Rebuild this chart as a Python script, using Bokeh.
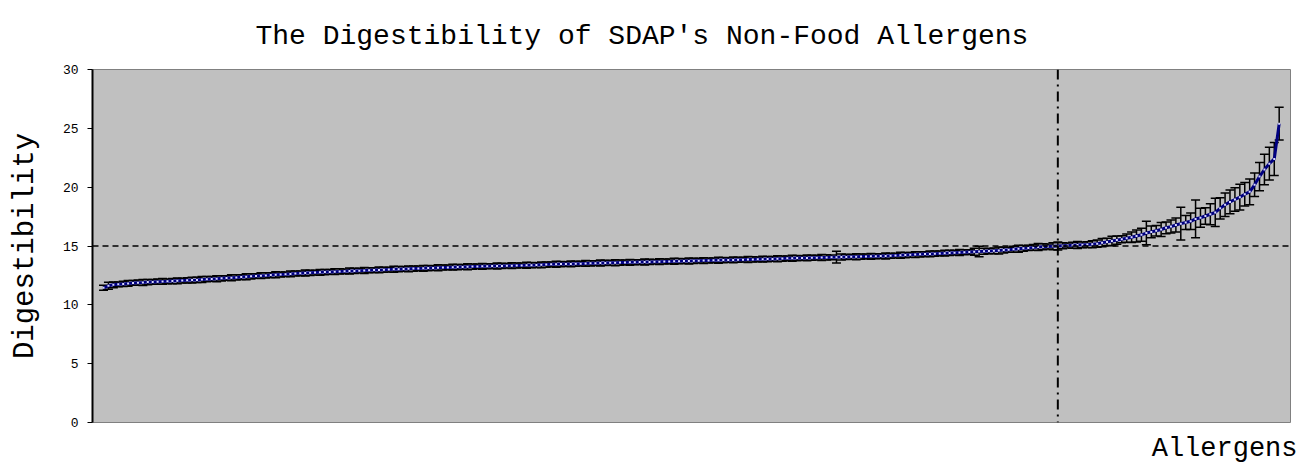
from bokeh.plotting import figure
from bokeh.models import ColumnDataSource, Span, Title, FixedTicker, Range1d
from bokeh.embed import file_html
from bokeh.resources import INLINE

# ---- data ----
digestibility = [
    11.45, 11.62, 11.70, 11.74, 11.78, 11.82, 11.86, 11.88, 11.90, 11.93,
    11.95, 11.97, 11.99, 12.00, 12.02, 12.04, 12.06, 12.08, 12.10, 12.12,
    12.15, 12.18, 12.20, 12.22, 12.25, 12.28, 12.30, 12.33, 12.36, 12.39,
    12.42, 12.45, 12.48, 12.50, 12.53, 12.56, 12.58, 12.60, 12.63, 12.66,
    12.68, 12.70, 12.72, 12.74, 12.76, 12.78, 12.80, 12.82, 12.84, 12.85,
    12.87, 12.88, 12.90, 12.92, 12.94, 12.95, 12.97, 12.98, 13.00, 13.02,
    13.03, 13.05, 13.06, 13.08, 13.09, 13.10, 13.12, 13.13, 13.15, 13.17,
    13.18, 13.20, 13.21, 13.22, 13.24, 13.25, 13.26, 13.27, 13.28, 13.29,
    13.30, 13.31, 13.32, 13.33, 13.34, 13.35, 13.36, 13.37, 13.38, 13.40,
    13.42, 13.44, 13.45, 13.46, 13.47, 13.48, 13.49, 13.50, 13.52, 13.53,
    13.54, 13.55, 13.56, 13.57, 13.58, 13.59, 13.60, 13.61, 13.62, 13.63,
    13.64, 13.65, 13.66, 13.67, 13.68, 13.69, 13.70, 13.71, 13.72, 13.73,
    13.74, 13.75, 13.76, 13.77, 13.78, 13.79, 13.80, 13.81, 13.82, 13.83,
    13.84, 13.85, 13.86, 13.87, 13.88, 13.89, 13.90, 13.92, 13.93, 13.95,
    13.96, 13.97, 13.98, 13.99, 14.00, 14.01, 14.02, 14.03, 14.04, 14.05,
    14.06, 14.07, 14.08, 14.09, 14.10, 14.11, 14.12, 14.13, 14.14, 14.15,
    14.17, 14.19, 14.21, 14.23, 14.25, 14.27, 14.29, 14.31, 14.33, 14.35,
    14.37, 14.39, 14.41, 14.43, 14.45, 14.47, 14.49, 14.51, 14.53, 14.55,
    14.57, 14.59, 14.62, 14.65, 14.68, 14.72, 14.76, 14.80, 14.84, 14.88,
    14.91, 14.94, 14.96, 14.98, 15.00, 15.02, 15.04, 15.06, 15.08, 15.10,
    15.12, 15.15, 15.20, 15.28, 15.35, 15.42, 15.50, 15.58, 15.66, 15.74,
    15.85, 15.95, 16.10, 16.20, 16.30, 16.40, 16.55, 16.65, 16.78, 16.90,
    17.00, 17.10, 17.30, 17.40, 17.55, 17.70, 17.85, 18.20, 18.50, 18.75,
    18.95, 19.15, 19.40, 19.60, 20.20, 20.90, 21.50, 22.00, 22.40, 25.40,
]
errors = [
    0.22, 0.30, 0.25, 0.20, 0.22, 0.25, 0.20, 0.22, 0.25, 0.22,
    0.20, 0.22, 0.25, 0.20, 0.22, 0.25, 0.20, 0.22, 0.25, 0.22,
    0.25, 0.22, 0.20, 0.25, 0.22, 0.20, 0.25, 0.22, 0.20, 0.25,
    0.22, 0.20, 0.25, 0.22, 0.20, 0.25, 0.22, 0.20, 0.25, 0.22,
    0.20, 0.25, 0.22, 0.20, 0.25, 0.22, 0.20, 0.25, 0.22, 0.20,
    0.25, 0.22, 0.20, 0.25, 0.22, 0.20, 0.25, 0.22, 0.20, 0.25,
    0.22, 0.20, 0.25, 0.22, 0.20, 0.25, 0.22, 0.20, 0.25, 0.22,
    0.20, 0.25, 0.22, 0.20, 0.25, 0.22, 0.20, 0.25, 0.22, 0.20,
    0.25, 0.22, 0.20, 0.25, 0.22, 0.20, 0.25, 0.22, 0.20, 0.25,
    0.22, 0.20, 0.25, 0.22, 0.20, 0.25, 0.22, 0.20, 0.25, 0.22,
    0.20, 0.25, 0.22, 0.20, 0.25, 0.22, 0.20, 0.25, 0.22, 0.20,
    0.25, 0.22, 0.20, 0.25, 0.22, 0.20, 0.25, 0.22, 0.20, 0.25,
    0.22, 0.20, 0.25, 0.22, 0.20, 0.25, 0.22, 0.20, 0.25, 0.22,
    0.20, 0.25, 0.22, 0.20, 0.25, 0.22, 0.20, 0.25, 0.22, 0.20,
    0.25, 0.22, 0.20, 0.25, 0.22, 0.20, 0.25, 0.22, 0.20, 0.50,
    0.25, 0.22, 0.20, 0.25, 0.22, 0.20, 0.25, 0.22, 0.20, 0.25,
    0.22, 0.20, 0.25, 0.22, 0.20, 0.25, 0.22, 0.20, 0.25, 0.22,
    0.20, 0.25, 0.22, 0.20, 0.25, 0.22, 0.20, 0.30, 0.45, 0.25,
    0.22, 0.25, 0.30, 0.25, 0.22, 0.25, 0.30, 0.25, 0.22, 0.25,
    0.30, 0.25, 0.22, 0.30, 0.35, 0.25, 0.22, 0.25, 0.30, 0.25,
    0.25, 0.30, 0.30, 0.35, 0.30, 0.40, 0.35, 0.30, 0.35, 0.45,
    0.50, 0.55, 1.00, 0.50, 0.45, 0.60, 0.50, 0.55, 0.60, 1.40,
    0.60, 0.70, 1.60, 0.80, 0.70, 0.90, 1.20, 0.90, 1.00, 1.00,
    1.00, 1.10, 1.00, 1.10, 1.00, 1.20, 1.30, 1.40, 1.40, 1.40,
]
allergen_index = list(range(1, len(digestibility) + 1))
threshold_value = 15
threshold_index = 195
y_ticks = [0, 5, 10, 15, 20, 25, 30]

upper = [v + e for v, e in zip(digestibility, errors)]
lower = [v - e for v, e in zip(digestibility, errors)]
src = ColumnDataSource(dict(x=allergen_index, y=digestibility, up=upper, lo=lower))

MONO = "Liberation Mono"
X_START, X_END = -1.24, 242.3

p = figure(width=1300, height=474, output_backend="svg", toolbar_location=None,
           x_range=Range1d(X_START, X_END), y_range=Range1d(0, 30),
           background_fill_color="#C0C0C0", border_fill_color="white",
           min_border_left=92, min_border_right=10, min_border_top=10, min_border_bottom=52)
p.title = None
p.outline_line_color = "#808080"
p.outline_line_width = 1
p.grid.visible = False

# title
t = Title(text="The Digestibility of SDAP's Non-Food Allergens", align="left", offset=163,
          text_font=MONO, text_font_size="28px", text_font_style="normal", text_color="black",
          standoff=36)
p.add_layout(t, "above")

# x label (right aligned, below the frame)
xl = Title(text="Allergens", align="right", offset=-7, text_font=MONO, text_font_size="27px",
           text_font_style="normal", text_color="black", standoff=18)
p.add_layout(xl, "below")

p.xaxis.visible = False

ya = p.yaxis[0]
ya.ticker = FixedTicker(ticks=y_ticks)
ya.minor_tick_line_color = None
ya.major_tick_out = 5
ya.major_tick_in = 0
ya.major_tick_line_color = "black"
ya.axis_line_color = "black"
ya.axis_line_width = 2
ya.major_label_text_font = MONO
ya.major_label_text_font_size = "13px"
ya.major_label_text_color = "black"
ya.major_label_standoff = 9
ya.axis_label = "Digestibility"
ya.axis_label_text_font = MONO
ya.axis_label_text_font_size = "29px"
ya.axis_label_text_font_style = "normal"
ya.axis_label_text_color = "black"
ya.axis_label_standoff = 18

# reference lines
p.add_layout(Span(location=threshold_value, dimension="width", line_color="black",
                  line_width=1.5, line_dash="6 4"))
p.add_layout(Span(location=threshold_index, dimension="height", line_color="black",
                  line_width=2, line_dash="10 5 2 5"))

# error bars
p.segment(x0="x", y0="lo", x1="x", y1="up", source=src, line_color="black", line_width=1.5)
p.scatter(x="x", y="up", source=src, marker="dash", size=9, line_color="black", line_width=1.5)
p.scatter(x="x", y="lo", source=src, marker="dash", size=9, line_color="black", line_width=1.5)

# series line and markers
p.line(x="x", y="y", source=src, line_color="#000080", line_width=3)
p.scatter(x="x", y="y", source=src, marker="square", size=2, fill_color="#D8D8FF",
          line_color=None)

open("out.html", "w").write(file_html(p, INLINE))
